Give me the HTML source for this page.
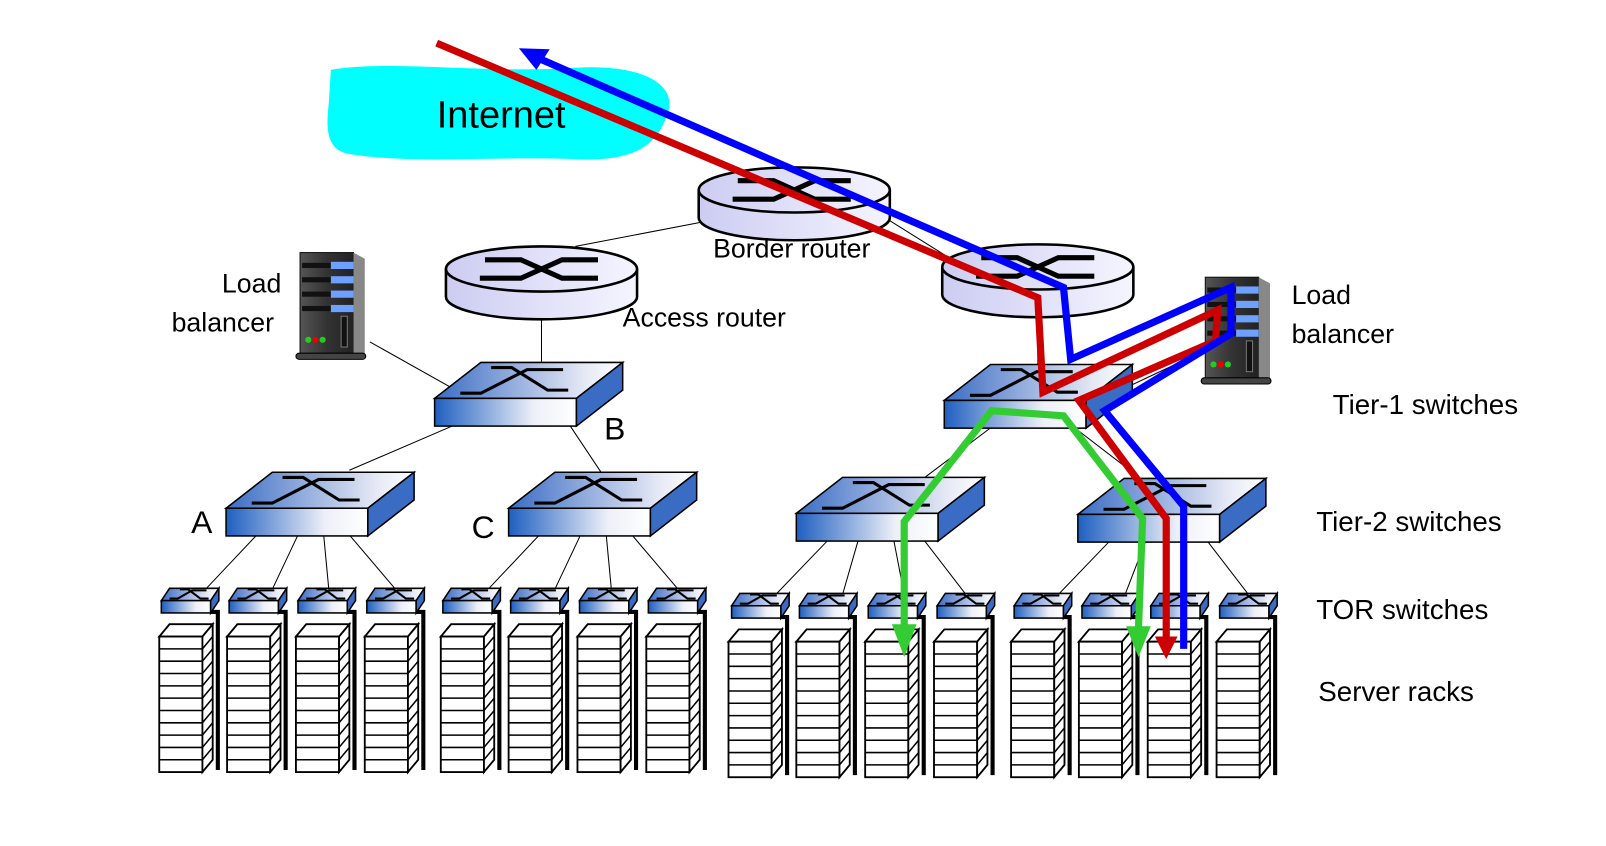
<!DOCTYPE html>
<html><head><meta charset="utf-8"><style>
html,body{margin:0;padding:0;background:#fff;}
svg{display:block;}
text{font-family:"Liberation Sans",sans-serif;fill:#000;}
</style></head><body>
<svg width="1606" height="846" viewBox="0 0 1563 824" preserveAspectRatio="none" xmlns="http://www.w3.org/2000/svg">
<defs>
<linearGradient id="gf" x1="0" x2="1" y1="0" y2="0"><stop offset="0" stop-color="#1f5fc0"/><stop offset="0.7" stop-color="#eef0f8"/><stop offset="1" stop-color="#ffffff"/></linearGradient>
<linearGradient id="gt" x1="0" x2="1" y1="0" y2="0"><stop offset="0" stop-color="#3a6cc4"/><stop offset="0.8" stop-color="#e6e9f5"/><stop offset="1" stop-color="#fff"/></linearGradient>
<linearGradient id="gr" x1="0" x2="1" y1="0" y2="0"><stop offset="0" stop-color="#ccccf2"/><stop offset="1" stop-color="#f5f5ff"/></linearGradient>
<linearGradient id="gs" x1="0" x2="1"><stop offset="0" stop-color="#555"/><stop offset="0.5" stop-color="#333"/><stop offset="1" stop-color="#222"/></linearGradient>
<g id="sw">
<polygon points="0,0 45,-35 183,-35 138,0" fill="url(#gt)" stroke="#000" stroke-width="1.5"/>
<rect x="0" y="0" width="138" height="27" fill="url(#gf)" stroke="#000" stroke-width="1.5"/>
<polygon points="138,0 183,-35 183,-8 138,27" fill="#3a6cc4" stroke="#000" stroke-width="1.5"/>
<polyline points="25,-5 45,-5 90,-28 125,-28" fill="none" stroke="#000" stroke-width="3"/>
<polyline points="55,-30 75,-30 110,-8 130,-8" fill="none" stroke="#000" stroke-width="3"/>
</g>
<g id="tor">
<polygon points="0,0 8,-12 56,-12 48,0" fill="url(#gt)" stroke="#000" stroke-width="1.5"/>
<rect x="0" y="0" width="48" height="12" fill="url(#gf)" stroke="#000" stroke-width="1.5"/>
<polygon points="48,0 56,-12 56,0 48,12" fill="#3a6cc4" stroke="#000" stroke-width="1.5"/>
<polyline points="8,-2 16,-2 30,-10 44,-10" fill="none" stroke="#000" stroke-width="2"/>
<polyline points="18,-11 26,-11 38,-2 46,-2" fill="none" stroke="#000" stroke-width="2"/>
</g>
<g id="rack">
<polyline points="50,-24 57,-24 57,130" fill="none" stroke="#000" stroke-width="4"/>
<polygon points="0,0 10,-12 52,-12 42,0" fill="#fff" stroke="#000" stroke-width="1.8"/>
<rect x="0" y="0" width="42" height="132" fill="#fff" stroke="#000" stroke-width="1.8"/>
<polygon points="42,0 52,-12 52,120 42,132" fill="#fff" stroke="#000" stroke-width="1.8"/>
<path d="M0,12H42M0,24H42M0,36H42M0,48H42M0,60H42M0,72H42M0,84H42M0,96H42M0,108H42M0,120H42M42,12L52,0M42,24L52,12M42,36L52,24M42,48L52,36M42,60L52,48M42,72L52,60M42,84L52,72M42,96L52,84M42,108L52,96M42,120L52,108" stroke="#000" stroke-width="1.5"/>
</g>
<g id="rt">
<path d="M-93,0 V27 A93,22 0 0 0 93,27 V0" fill="url(#gr)" stroke="#000" stroke-width="2.5"/>
<ellipse cx="0" cy="0" rx="93" ry="22" fill="url(#gr)" stroke="#000" stroke-width="2.5"/>
<polyline points="-55,-9 -20,-9 20,9 55,9" fill="none" stroke="#000" stroke-width="5"/>
<polyline points="-60,9 -20,9 20,-9 55,-9" fill="none" stroke="#000" stroke-width="5"/>
</g>
<g id="lb">
<rect x="0" y="0" width="52" height="100" fill="url(#gs)" stroke="#111"/>
<polygon points="52,0 63,6 63,100 52,100" fill="#888"/>
<rect x="2" y="10" width="50" height="5" fill="#111"/><rect x="30" y="9" width="22" height="7" fill="#6ea0ff"/>
<rect x="2" y="24" width="50" height="5" fill="#111"/><rect x="30" y="23" width="22" height="7" fill="#6ea0ff"/>
<rect x="2" y="38" width="50" height="5" fill="#111"/><rect x="30" y="37" width="22" height="7" fill="#6ea0ff"/>
<rect x="2" y="52" width="50" height="5" fill="#111"/><rect x="30" y="51" width="22" height="7" fill="#6ea0ff"/>
<rect x="40" y="62" width="6" height="30" fill="#111" stroke="#777"/>
<circle cx="8" cy="85" r="3" fill="#2c2"/><circle cx="15" cy="85" r="3" fill="#e00"/><circle cx="22" cy="85" r="3" fill="#2c2"/>
<rect x="-4" y="98" width="68" height="6" rx="3" fill="#444" stroke="#000"/>
</g>
</defs>

<path d="M322,68 C380,58 470,72 560,66 C620,62 660,80 650,110 C640,140 620,158 560,155 C480,152 400,160 340,150 C315,146 318,120 320,100 Z" fill="#00ffff"/>
<text x="425" y="124" font-size="37">Internet</text>

<g stroke="#000" stroke-width="1" fill="none">
<line x1="560" y1="240" x2="690" y2="215"/>
<line x1="866" y1="215" x2="930" y2="255"/>
<line x1="527" y1="305" x2="527" y2="355"/>
<line x1="360" y1="333" x2="440" y2="378"/>
<line x1="1010" y1="305" x2="1010" y2="358"/>
<line x1="1165" y1="345" x2="1080" y2="385"/>
<line x1="440" y1="415" x2="340" y2="458"/>
<line x1="555" y1="415" x2="585" y2="460"/>
<line x1="965" y1="416" x2="900" y2="465"/>
<line x1="1045" y1="416" x2="1110" y2="466"/>
<line x1="250" y1="521" x2="200" y2="574"/><line x1="290" y1="521" x2="265" y2="574"/><line x1="315" y1="521" x2="320" y2="574"/><line x1="340" y1="521" x2="385" y2="574"/>
<line x1="525" y1="521" x2="475" y2="574"/><line x1="565" y1="521" x2="540" y2="574"/><line x1="590" y1="521" x2="595" y2="574"/><line x1="615" y1="521" x2="660" y2="574"/>
<line x1="805" y1="527" x2="755" y2="579"/><line x1="835" y1="527" x2="820" y2="579"/><line x1="870" y1="527" x2="880" y2="579"/><line x1="900" y1="527" x2="940" y2="579"/>
<line x1="1080" y1="527" x2="1030" y2="579"/><line x1="1115" y1="527" x2="1095" y2="579"/><line x1="1150" y1="527" x2="1155" y2="579"/><line x1="1175" y1="527" x2="1215" y2="579"/>
</g>

<use href="#rt" x="773" y="185"/>
<use href="#rt" x="527" y="262"/>
<use href="#rt" x="1010" y="260"/>

<use href="#sw" x="423" y="388"/>
<use href="#sw" x="919" y="390"/>
<use href="#sw" x="220" y="495"/>
<use href="#sw" x="495" y="495"/>
<use href="#sw" x="775" y="500"/>
<use href="#sw" x="1049" y="501"/>

<use href="#lb" x="292" y="246"/>
<use href="#lb" x="1173" y="270"/>

<use href="#rack" x="155" y="620"/><use href="#rack" x="221" y="620"/><use href="#rack" x="288" y="620"/><use href="#rack" x="355" y="620"/>
<use href="#rack" x="429" y="620"/><use href="#rack" x="495" y="620"/><use href="#rack" x="562" y="620"/><use href="#rack" x="629" y="620"/>
<use href="#tor" x="157" y="585"/><use href="#tor" x="223" y="585"/><use href="#tor" x="290" y="585"/><use href="#tor" x="357" y="585"/>
<use href="#tor" x="431" y="585"/><use href="#tor" x="497" y="585"/><use href="#tor" x="564" y="585"/><use href="#tor" x="631" y="585"/>
<use href="#rack" x="709" y="625"/><use href="#rack" x="775" y="625"/><use href="#rack" x="842" y="625"/><use href="#rack" x="909" y="625"/>
<use href="#rack" x="984" y="625"/><use href="#rack" x="1050" y="625"/><use href="#rack" x="1117" y="625"/><use href="#rack" x="1184" y="625"/>
<use href="#tor" x="712" y="590"/><use href="#tor" x="778" y="590"/><use href="#tor" x="845" y="590"/><use href="#tor" x="912" y="590"/>
<use href="#tor" x="987" y="590"/><use href="#tor" x="1053" y="590"/><use href="#tor" x="1120" y="590"/><use href="#tor" x="1187" y="590"/>

<text x="694" y="251" font-size="26">Border router</text>
<text x="606" y="318" font-size="26">Access router</text>
<text x="216" y="285" font-size="26">Load</text>
<text x="167" y="323" font-size="26">balancer</text>
<text x="1257" y="296" font-size="26">Load</text>
<text x="1257" y="334" font-size="26">balancer</text>
<text x="1297" y="403" font-size="27">Tier-1 switches</text>
<text x="1281" y="517" font-size="27">Tier-2 switches</text>
<text x="1281" y="603" font-size="27">TOR switches</text>
<text x="1283" y="683" font-size="27">Server racks</text>
<text x="588" y="428" font-size="31">B</text>
<text x="186" y="519" font-size="31">A</text>
<text x="459" y="524" font-size="31">C</text>

<g fill="none" stroke-width="7" stroke-linejoin="miter">
<polyline points="880,610 880,508 965,400 1035,405 1112,505 1108,612" stroke="#33cc33"/>
<polyline points="425,42 1010,290 1015,382 1185,302 1183,332 1050,390 1135,505 1135,622" stroke="#cc0000"/>
<polyline points="520,55 1035,280 1042,350 1198,280 1198,325 1075,400 1152,493 1152,632" stroke="#0000ff"/>
</g>
<polygon points="868,608 892,608 880,640" fill="#33cc33"/>
<polygon points="1096,610 1120,610 1108,640" fill="#33cc33"/>
<polygon points="1124,620 1146,620 1135,642" fill="#cc0000"/>
<polygon points="505,47 535,48 522,68" fill="#0000ff"/>
</svg>
</body></html>
